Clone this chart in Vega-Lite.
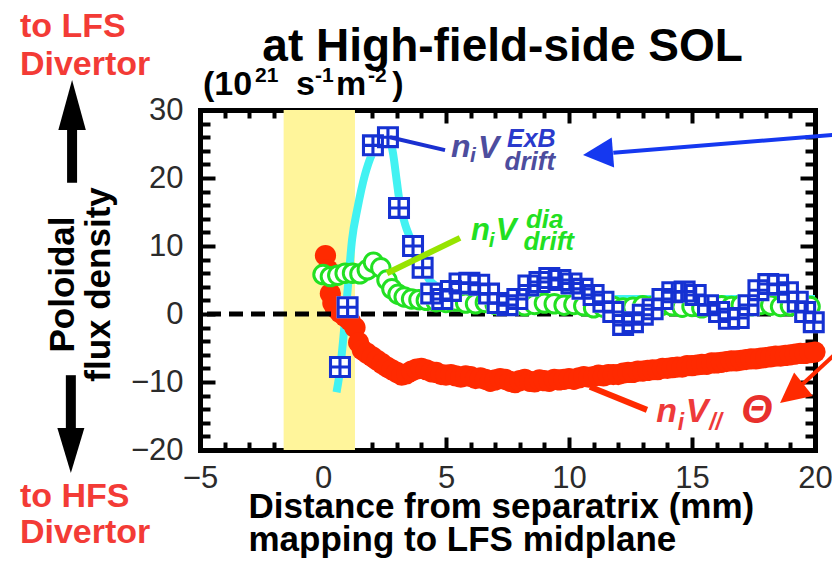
{
  "$schema": "https://vega.github.io/schema/vega-lite/v6.json",
  "width": 615,
  "height": 340,
  "autosize": "none",
  "padding": {"left": 200, "top": 110, "right": 17, "bottom": 114},
  "background": "white",
  "config": {
    "view": {"stroke": null},
    "axis": {
      "grid": false,
      "zindex": 1,
      "tickColor": "black",
      "tickWidth": 4,
      "domainColor": "black",
      "domainWidth": 5,
      "domainCap": "square",
      "labelFont": "Liberation Sans",
      "titleFont": "Liberation Sans"
    },
    "text": {"font": "Liberation Sans"}
  },
  "datasets": {
    "band": [{"x0": -1.6, "x1": 1.3, "y0": -20, "y1": 30}],
    "zero": [{"y": 0}],
    "exbFit": [
      {"x": 0.55, "y": -11.5}, {"x": 0.7, "y": -8.0}, {"x": 0.82, "y": -3.8}, {"x": 1.0, "y": 3.5},
      {"x": 1.18, "y": 10.9}, {"x": 1.4, "y": 15.5}, {"x": 1.7, "y": 20.4}, {"x": 2.0, "y": 23.6},
      {"x": 2.3, "y": 25.3}, {"x": 2.6, "y": 25.8}, {"x": 2.8, "y": 24.5}, {"x": 3.0, "y": 19.5},
      {"x": 3.1, "y": 16.8}, {"x": 3.4, "y": 12.5}, {"x": 3.8, "y": 9.4}, {"x": 4.1, "y": 6.5},
      {"x": 4.35, "y": 4.9}, {"x": 4.95, "y": 3.5}, {"x": 5.5, "y": 2.9}, {"x": 6.5, "y": 2.5},
      {"x": 8, "y": 2.3}, {"x": 10, "y": 2.2}, {"x": 12, "y": 2.2}, {"x": 14, "y": 2.2},
      {"x": 16, "y": 2.2}, {"x": 18, "y": 2.2}, {"x": 20, "y": 2.2}
    ],
    "exb": [
      {"x": 0.69, "y": -7.8}, {"x": 1.0, "y": 1.0}, {"x": 2.03, "y": 24.8}, {"x": 2.64, "y": 26.0},
      {"x": 3.09, "y": 15.6}, {"x": 3.66, "y": 10.0}, {"x": 4.05, "y": 6.8}, {"x": 4.4, "y": 3.0},
      {"x": 4.85, "y": 2.2}, {"x": 5.2, "y": 3.4}, {"x": 5.55, "y": 4.5}, {"x": 5.95, "y": 4.6},
      {"x": 6.35, "y": 4.3}, {"x": 6.75, "y": 3.0}, {"x": 7.1, "y": 1.6}, {"x": 7.5, "y": 1.3},
      {"x": 7.9, "y": 2.2}, {"x": 8.35, "y": 4.2}, {"x": 8.8, "y": 4.7}, {"x": 9.2, "y": 5.3},
      {"x": 9.65, "y": 5.0}, {"x": 10.1, "y": 4.5}, {"x": 10.55, "y": 3.7}, {"x": 11.0, "y": 2.8},
      {"x": 11.4, "y": 1.8}, {"x": 11.8, "y": 0.3}, {"x": 12.2, "y": -1.6}, {"x": 12.6, "y": -1.2},
      {"x": 13.0, "y": -0.1}, {"x": 13.4, "y": 0.7}, {"x": 13.8, "y": 2.2}, {"x": 14.2, "y": 3.2},
      {"x": 14.7, "y": 3.3}, {"x": 15.15, "y": 2.8}, {"x": 15.65, "y": 1.3}, {"x": 16.1, "y": 0.3},
      {"x": 16.5, "y": -0.7}, {"x": 16.9, "y": -0.6}, {"x": 17.3, "y": 1.3}, {"x": 17.7, "y": 3.5},
      {"x": 18.1, "y": 4.4}, {"x": 18.5, "y": 4.3}, {"x": 18.9, "y": 3.2}, {"x": 19.3, "y": 1.8},
      {"x": 19.6, "y": 0.3}, {"x": 19.95, "y": -1.2}
    ],
    "dia": [
      {"x": 0.0, "y": 5.8}, {"x": 0.3, "y": 5.5}, {"x": 0.6, "y": 5.7}, {"x": 0.9, "y": 6.0},
      {"x": 1.2, "y": 6.0}, {"x": 1.5, "y": 5.9}, {"x": 1.8, "y": 6.5}, {"x": 2.05, "y": 7.6},
      {"x": 2.35, "y": 6.8}, {"x": 2.6, "y": 5.0}, {"x": 2.8, "y": 3.7}, {"x": 3.05, "y": 2.9},
      {"x": 3.3, "y": 2.5}, {"x": 3.6, "y": 2.2}, {"x": 3.9, "y": 2.1}, {"x": 4.2, "y": 2.0},
      {"x": 4.6, "y": 1.8}, {"x": 5.0, "y": 1.7}, {"x": 5.4, "y": 1.9}, {"x": 5.8, "y": 1.6},
      {"x": 6.2, "y": 1.5}, {"x": 6.6, "y": 1.7}, {"x": 7.0, "y": 1.4}, {"x": 7.4, "y": 1.3},
      {"x": 7.8, "y": 1.5}, {"x": 8.2, "y": 1.2}, {"x": 8.6, "y": 1.4}, {"x": 9.0, "y": 1.6},
      {"x": 9.4, "y": 1.5}, {"x": 9.8, "y": 1.3}, {"x": 10.2, "y": 1.4}, {"x": 10.6, "y": 1.2},
      {"x": 11.0, "y": 0.9}, {"x": 11.4, "y": 1.0}, {"x": 11.8, "y": 1.1}, {"x": 12.2, "y": 0.9},
      {"x": 12.6, "y": 1.0}, {"x": 13.0, "y": 1.2}, {"x": 13.4, "y": 1.1}, {"x": 13.8, "y": 1.3},
      {"x": 14.2, "y": 1.2}, {"x": 14.6, "y": 1.0}, {"x": 15.0, "y": 1.1}, {"x": 15.4, "y": 0.9},
      {"x": 15.8, "y": 1.0}, {"x": 16.2, "y": 1.2}, {"x": 16.6, "y": 1.1}, {"x": 17.0, "y": 1.3},
      {"x": 17.4, "y": 1.2}, {"x": 17.8, "y": 1.4}, {"x": 18.2, "y": 1.3}, {"x": 18.6, "y": 1.1},
      {"x": 19.0, "y": 1.2}, {"x": 19.4, "y": 1.0}, {"x": 19.8, "y": 1.1}
    ],
    "par": [
      {"x": 0.1, "y": 8.6}, {"x": 0.2, "y": 6.5}, {"x": 0.3, "y": 3.0}, {"x": 0.4, "y": 1.6},
      {"x": 0.5, "y": 0.9}, {"x": 0.7, "y": 0.2}, {"x": 0.9, "y": -0.4}, {"x": 1.1, "y": -1.0},
      {"x": 1.3, "y": -2.0}, {"x": 1.45, "y": -4.2}, {"x": 1.6, "y": -5.3}, {"x": 1.8, "y": -5.8},
      {"x": 2.0, "y": -6.3}, {"x": 2.2, "y": -6.8}, {"x": 2.4, "y": -7.3}, {"x": 2.6, "y": -7.8},
      {"x": 2.8, "y": -8.2}, {"x": 3.0, "y": -8.6}, {"x": 3.2, "y": -9.0}, {"x": 3.4, "y": -8.8},
      {"x": 3.6, "y": -8.4}, {"x": 3.8, "y": -8.1}, {"x": 4.0, "y": -8.0}, {"x": 4.2, "y": -8.2},
      {"x": 4.4, "y": -8.5}, {"x": 4.6, "y": -8.6}, {"x": 4.8, "y": -8.9}, {"x": 5.0, "y": -9.0},
      {"x": 5.2, "y": -8.9}, {"x": 5.4, "y": -9.1}, {"x": 5.6, "y": -9.3}, {"x": 5.8, "y": -9.1},
      {"x": 6.0, "y": -9.2}, {"x": 6.2, "y": -9.5}, {"x": 6.4, "y": -9.4}, {"x": 6.6, "y": -9.6},
      {"x": 6.8, "y": -9.9}, {"x": 7.0, "y": -9.7}, {"x": 7.2, "y": -9.5}, {"x": 7.4, "y": -9.6},
      {"x": 7.6, "y": -9.9}, {"x": 7.8, "y": -10.1}, {"x": 8.0, "y": -9.8}, {"x": 8.2, "y": -9.6},
      {"x": 8.4, "y": -9.9}, {"x": 8.6, "y": -10.0}, {"x": 8.8, "y": -9.7}, {"x": 9.0, "y": -9.8},
      {"x": 9.2, "y": -9.9}, {"x": 9.4, "y": -9.6}, {"x": 9.6, "y": -9.7}, {"x": 9.8, "y": -9.6},
      {"x": 10.0, "y": -9.5}, {"x": 10.2, "y": -9.6}, {"x": 10.4, "y": -9.4}, {"x": 10.6, "y": -9.2},
      {"x": 10.8, "y": -9.3}, {"x": 11.0, "y": -9.2}, {"x": 11.2, "y": -9.0}, {"x": 11.4, "y": -9.1},
      {"x": 11.6, "y": -8.9}, {"x": 11.8, "y": -8.9}, {"x": 12.0, "y": -8.9}, {"x": 12.2, "y": -8.7},
      {"x": 12.4, "y": -8.6}, {"x": 12.6, "y": -8.6}, {"x": 12.8, "y": -8.4}, {"x": 13.0, "y": -8.4},
      {"x": 13.2, "y": -8.3}, {"x": 13.4, "y": -8.2}, {"x": 13.6, "y": -8.2}, {"x": 13.8, "y": -8.0},
      {"x": 14.0, "y": -8.0}, {"x": 14.2, "y": -7.9}, {"x": 14.4, "y": -7.8}, {"x": 14.6, "y": -7.8},
      {"x": 14.8, "y": -7.6}, {"x": 15.0, "y": -7.6}, {"x": 15.2, "y": -7.5}, {"x": 15.4, "y": -7.4},
      {"x": 15.6, "y": -7.4}, {"x": 15.8, "y": -7.2}, {"x": 16.0, "y": -7.2}, {"x": 16.2, "y": -7.1},
      {"x": 16.4, "y": -7.0}, {"x": 16.6, "y": -6.9}, {"x": 16.8, "y": -6.9}, {"x": 17.0, "y": -6.8},
      {"x": 17.2, "y": -6.7}, {"x": 17.4, "y": -6.6}, {"x": 17.6, "y": -6.6}, {"x": 17.8, "y": -6.5},
      {"x": 18.0, "y": -6.4}, {"x": 18.2, "y": -6.3}, {"x": 18.4, "y": -6.2}, {"x": 18.6, "y": -6.2},
      {"x": 18.8, "y": -6.1}, {"x": 19.0, "y": -6.0}, {"x": 19.2, "y": -5.9}, {"x": 19.4, "y": -5.8},
      {"x": 19.6, "y": -5.8}, {"x": 19.8, "y": -5.7}, {"x": 20.0, "y": -5.6}
    ],
    "leaders": [
      {"who": "exb", "x": 2.72, "y": 26.0, "x2": 4.96, "y2": 24.1},
      {"who": "dia", "x": 2.6, "y": 6.0, "x2": 5.57, "y2": 11.2},
      {"who": "par", "x": 10.85, "y": -10.7, "x2": 13.17, "y2": -14.1}
    ],
    "pointers": [
      {"who": "exb", "x": 21.0, "y": 26.4, "x2": 11.8, "y2": 23.7, "tx": 10.57, "ty": 23.4},
      {"who": "par", "x": 21.0, "y": -5.3, "x2": 19.5, "y2": -10.3, "tx": 18.58, "ty": -13.1}
    ],
    "updown": [
      {"dir": "up", "x": -10.2, "y": 19.3, "y2": 27.5, "ty": 34.4},
      {"dir": "down", "x": -10.25, "y": -9.0, "y2": -17.0, "ty": -23.4}
    ],
    "notes": [
      {"kind": "head", "x": 7.3, "y": 37.2, "t": "at High-field-side SOL"},
      {"kind": "side", "x": -12.32, "y": 40.7, "t": "to LFS"},
      {"kind": "side", "x": -12.32, "y": 35.1, "t": "Divertor"},
      {"kind": "side", "x": -12.32, "y": -28.4, "t": "to HFS"},
      {"kind": "side", "x": -12.32, "y": -33.7, "t": "Divertor"},
      {"kind": "unit", "x": -4.88, "y": 32.2, "t": "(10"},
      {"kind": "unit", "x": -1.1, "y": 32.2, "t": "s"},
      {"kind": "unit", "x": 0.53, "y": 32.2, "t": "m"},
      {"kind": "unit", "x": 2.81, "y": 32.2, "t": ")"},
      {"kind": "unitSup", "x": -2.76, "y": 34.1, "t": "21"},
      {"kind": "unitSup", "x": -0.33, "y": 34.1, "t": "-1"},
      {"kind": "unitSup", "x": 1.83, "y": 34.1, "t": "-2"},
      {"kind": "exbMain", "x": 5.2, "y": 23.1, "t": "n"},
      {"kind": "exbMain", "x": 6.3, "y": 22.9, "t": "V"},
      {"kind": "exbSub", "x": 5.98, "y": 22.35, "t": "i"},
      {"kind": "exbDrift", "x": 7.38, "y": 21.2, "t": "drift"},
      {"kind": "exbSup", "x": 7.48, "y": 24.6, "t": "ExB"},
      {"kind": "diaMain", "x": 6.02, "y": 10.9, "t": "n"},
      {"kind": "diaMain", "x": 7.02, "y": 10.9, "t": "V"},
      {"kind": "diaSub", "x": 6.74, "y": 9.85, "t": "i"},
      {"kind": "diaScript", "x": 8.25, "y": 12.6, "t": "dia"},
      {"kind": "diaScript", "x": 8.15, "y": 9.4, "t": "drift"},
      {"kind": "parMain", "x": 13.55, "y": -15.9, "t": "n"},
      {"kind": "parMain", "x": 14.75, "y": -15.9, "t": "V"},
      {"kind": "parSub", "x": 14.42, "y": -17.1, "t": "i"},
      {"kind": "parSub", "x": 15.7, "y": -17.1, "t": "//"},
      {"kind": "parTheta", "x": 17.0, "y": -16.0, "t": "Θ"}
    ]
  },
  "layer": [
    {
      "data": {"name": "exb"},
      "mark": {"type": "point", "opacity": 0},
      "encoding": {
        "x": {
          "field": "x", "type": "quantitative",
          "scale": {"domain": [-5, 20], "nice": false, "zero": false},
          "axis": {
            "orient": "bottom",
            "values": [-5, 0, 5, 10, 15, 20],
            "format": "d",
            "tickSize": -13,
            "domain": true,
            "labelFontSize": 31,
            "labelColor": "#2b2b2b",
            "labelPadding": 26,
            "labelFlush": false,
            "labelOverlap": false,
            "title": ["Distance from separatrix (mm)", "mapping to LFS midplane"],
            "titleFontSize": 35,
            "titleFontWeight": "bold",
            "titleColor": "black",
            "titleAlign": "left",
            "titleBaseline": "alphabetic",
            "titleX": 48,
            "titleY": 67,
            "titleLineHeight": 33
          }
        },
        "y": {
          "field": "y", "type": "quantitative",
          "scale": {"domain": [-20, 30], "nice": false, "zero": false},
          "axis": {
            "orient": "left",
            "values": [-20, -10, 0, 10, 20, 30],
            "format": "d",
            "tickSize": -15,
            "domain": true,
            "labelFontSize": 31,
            "labelColor": "#2b2b2b",
            "labelPadding": 32,
            "labelFlush": false,
            "labelOverlap": false,
            "title": ["Poloidal", "flux density"],
            "titleFontSize": 35,
            "titleFontWeight": "bold",
            "titleColor": "black",
            "titleAngle": -90,
            "titleAlign": "center",
            "titleBaseline": "alphabetic",
            "titleX": -127,
            "titleY": 174,
            "titleLineHeight": 36
          }
        }
      }
    },
    {
      "data": {"name": "exb"},
      "mark": {"type": "point", "opacity": 0},
      "encoding": {
        "x": {
          "field": "x", "type": "quantitative",
          "axis": {
            "orient": "bottom",
            "values": [-4, -3, -2, -1, 1, 2, 3, 4, 6, 7, 8, 9, 11, 12, 13, 14, 16, 17, 18, 19],
            "tickSize": -8, "labels": false, "domain": false, "title": null
          }
        },
        "y": {
          "field": "y", "type": "quantitative",
          "axis": {
            "orient": "left",
            "values": [-18, -16, -14, -12, -8, -6, -4, -2, 2, 4, 6, 8, 12, 14, 16, 18, 22, 24, 26, 28],
            "tickSize": -10, "labels": false, "domain": false, "title": null
          }
        }
      }
    },
    {
      "data": {"name": "exb"},
      "mark": {"type": "point", "opacity": 0},
      "encoding": {
        "x": {
          "field": "x", "type": "quantitative",
          "axis": {
            "orient": "top",
            "values": [-5, 0, 5, 10, 15, 20],
            "tickSize": -13, "labels": false, "domain": true, "title": null
          }
        },
        "y": {
          "field": "y", "type": "quantitative",
          "axis": {
            "orient": "right",
            "values": [-20, -10, 0, 10, 20, 30],
            "tickSize": -15, "labels": false, "domain": true, "title": null
          }
        }
      }
    },
    {
      "data": {"name": "exb"},
      "mark": {"type": "point", "opacity": 0},
      "encoding": {
        "x": {
          "field": "x", "type": "quantitative",
          "axis": {
            "orient": "top",
            "values": [-4, -3, -2, -1, 1, 2, 3, 4, 6, 7, 8, 9, 11, 12, 13, 14, 16, 17, 18, 19],
            "tickSize": -8, "labels": false, "domain": false, "title": null
          }
        },
        "y": {
          "field": "y", "type": "quantitative",
          "axis": {
            "orient": "right",
            "values": [-18, -16, -14, -12, -8, -6, -4, -2, 2, 4, 6, 8, 12, 14, 16, 18, 22, 24, 26, 28],
            "tickSize": -10, "labels": false, "domain": false, "title": null
          }
        }
      }
    },
    {
      "data": {"name": "band"},
      "mark": {"type": "rect", "color": "#fff59b"},
      "encoding": {
        "x": {"field": "x0", "type": "quantitative", "axis": null},
        "x2": {"field": "x1"},
        "y": {"field": "y0", "type": "quantitative", "axis": null},
        "y2": {"field": "y1"}
      }
    },
    {
      "data": {"name": "exbFit"},
      "mark": {"type": "line", "color": "#42f2f2", "strokeWidth": 8, "interpolate": "monotone"},
      "encoding": {
        "x": {"field": "x", "type": "quantitative", "axis": null},
        "y": {"field": "y", "type": "quantitative", "axis": null}
      }
    },
    {
      "data": {"name": "par"},
      "mark": {"type": "point", "shape": "circle", "filled": true, "color": "#ff2a00", "opacity": 1, "size": 450},
      "encoding": {
        "x": {"field": "x", "type": "quantitative", "axis": null},
        "y": {"field": "y", "type": "quantitative", "axis": null}
      }
    },
    {
      "data": {"name": "zero"},
      "mark": {"type": "rule", "color": "black", "strokeWidth": 5, "strokeDash": [14, 8]},
      "encoding": {
        "y": {"field": "y", "type": "quantitative", "axis": null}
      }
    },
    {
      "data": {"name": "dia"},
      "mark": {"type": "point", "shape": "circle", "filled": false, "fill": "white", "fillOpacity": 1, "stroke": "#22e022", "strokeWidth": 3, "opacity": 1, "size": 340},
      "encoding": {
        "x": {"field": "x", "type": "quantitative", "axis": null},
        "y": {"field": "y", "type": "quantitative", "axis": null}
      }
    },
    {
      "data": {"name": "exb"},
      "mark": {"type": "point", "shape": "square", "filled": true, "color": "white", "opacity": 1, "size": 484},
      "encoding": {
        "x": {"field": "x", "type": "quantitative", "axis": null},
        "y": {"field": "y", "type": "quantitative", "axis": null}
      }
    },
    {
      "data": {"name": "exb"},
      "mark": {
        "type": "point",
        "shape": "M-1,-1H1V1H-1Z M-0.72,-0.72V-0.14H-0.14V-0.72Z M0.14,-0.72V-0.14H0.72V-0.72Z M-0.72,0.14V0.72H-0.14V0.14Z M0.14,0.14V0.72H0.72V0.14Z",
        "filled": true, "color": "#1531d2", "opacity": 1, "size": 484
      },
      "encoding": {
        "x": {"field": "x", "type": "quantitative", "axis": null},
        "y": {"field": "y", "type": "quantitative", "axis": null}
      }
    },
    {
      "data": {"name": "leaders"},
      "transform": [{"filter": "datum.who === 'exb'"}],
      "mark": {"type": "rule", "color": "#1a30d0", "strokeWidth": 4},
      "encoding": {
        "x": {"field": "x", "type": "quantitative", "axis": null},
        "y": {"field": "y", "type": "quantitative", "axis": null},
        "x2": {"field": "x2"},
        "y2": {"field": "y2"}
      }
    },
    {
      "data": {"name": "leaders"},
      "transform": [{"filter": "datum.who === 'dia'"}],
      "mark": {"type": "rule", "color": "#96e400", "strokeWidth": 6},
      "encoding": {
        "x": {"field": "x", "type": "quantitative", "axis": null},
        "y": {"field": "y", "type": "quantitative", "axis": null},
        "x2": {"field": "x2"},
        "y2": {"field": "y2"}
      }
    },
    {
      "data": {"name": "leaders"},
      "transform": [{"filter": "datum.who === 'par'"}],
      "mark": {"type": "rule", "color": "#ff2a00", "strokeWidth": 6},
      "encoding": {
        "x": {"field": "x", "type": "quantitative", "axis": null},
        "y": {"field": "y", "type": "quantitative", "axis": null},
        "x2": {"field": "x2"},
        "y2": {"field": "y2"}
      }
    },
    {
      "data": {"name": "pointers"},
      "transform": [{"filter": "datum.who === 'exb'"}],
      "mark": {"type": "rule", "color": "#1538f0", "strokeWidth": 4},
      "encoding": {
        "x": {"field": "x", "type": "quantitative", "axis": null},
        "y": {"field": "y", "type": "quantitative", "axis": null},
        "x2": {"field": "x2"},
        "y2": {"field": "y2"}
      }
    },
    {
      "data": {"name": "pointers"},
      "transform": [{"filter": "datum.who === 'exb'"}],
      "mark": {"type": "point", "shape": "M0,0L2,-1L2,1Z", "filled": true, "color": "#1538f0", "opacity": 1, "size": 900, "angle": -4.6},
      "encoding": {
        "x": {"field": "tx", "type": "quantitative", "axis": null},
        "y": {"field": "ty", "type": "quantitative", "axis": null}
      }
    },
    {
      "data": {"name": "pointers"},
      "transform": [{"filter": "datum.who === 'par'"}],
      "mark": {"type": "rule", "color": "#ff2a00", "strokeWidth": 4},
      "encoding": {
        "x": {"field": "x", "type": "quantitative", "axis": null},
        "y": {"field": "y", "type": "quantitative", "axis": null},
        "x2": {"field": "x2"},
        "y2": {"field": "y2"}
      }
    },
    {
      "data": {"name": "pointers"},
      "transform": [{"filter": "datum.who === 'par'"}],
      "mark": {"type": "point", "shape": "M0,0L2,-1L2,1Z", "filled": true, "color": "#ff2a00", "opacity": 1, "size": 900, "angle": -38.7},
      "encoding": {
        "x": {"field": "tx", "type": "quantitative", "axis": null},
        "y": {"field": "ty", "type": "quantitative", "axis": null}
      }
    },
    {
      "data": {"name": "updown"},
      "mark": {"type": "rule", "color": "black", "strokeWidth": 10},
      "encoding": {
        "x": {"field": "x", "type": "quantitative", "axis": null},
        "y": {"field": "y", "type": "quantitative", "axis": null},
        "y2": {"field": "y2"}
      }
    },
    {
      "data": {"name": "updown"},
      "transform": [{"filter": "datum.dir === 'up'"}],
      "mark": {"type": "point", "shape": "M0,0L0.55,2L-0.55,2Z", "filled": true, "color": "black", "opacity": 1, "size": 2500},
      "encoding": {
        "x": {"field": "x", "type": "quantitative", "axis": null},
        "y": {"field": "ty", "type": "quantitative", "axis": null}
      }
    },
    {
      "data": {"name": "updown"},
      "transform": [{"filter": "datum.dir === 'down'"}],
      "mark": {"type": "point", "shape": "M0,0L0.6,-2L-0.6,-2Z", "filled": true, "color": "black", "opacity": 1, "size": 2025},
      "encoding": {
        "x": {"field": "x", "type": "quantitative", "axis": null},
        "y": {"field": "ty", "type": "quantitative", "axis": null}
      }
    },
    {
      "data": {"name": "notes"},
      "transform": [{"filter": "datum.kind === 'head'"}],
      "mark": {"type": "text", "align": "center", "baseline": "alphabetic", "fontSize": 46, "fontWeight": "bold", "color": "black"},
      "encoding": {
        "x": {"field": "x", "type": "quantitative", "axis": null},
        "y": {"field": "y", "type": "quantitative", "axis": null},
        "text": {"field": "t"}
      }
    },
    {
      "data": {"name": "notes"},
      "transform": [{"filter": "datum.kind === 'side'"}],
      "mark": {"type": "text", "align": "left", "baseline": "alphabetic", "fontSize": 34, "fontWeight": "bold", "color": "#f33b36"},
      "encoding": {
        "x": {"field": "x", "type": "quantitative", "axis": null},
        "y": {"field": "y", "type": "quantitative", "axis": null},
        "text": {"field": "t"}
      }
    },
    {
      "data": {"name": "notes"},
      "transform": [{"filter": "datum.kind === 'unit'"}],
      "mark": {"type": "text", "align": "left", "baseline": "alphabetic", "fontSize": 34, "fontWeight": "bold", "color": "black"},
      "encoding": {
        "x": {"field": "x", "type": "quantitative", "axis": null},
        "y": {"field": "y", "type": "quantitative", "axis": null},
        "text": {"field": "t"}
      }
    },
    {
      "data": {"name": "notes"},
      "transform": [{"filter": "datum.kind === 'unitSup'"}],
      "mark": {"type": "text", "align": "left", "baseline": "alphabetic", "fontSize": 21, "fontWeight": "bold", "color": "black"},
      "encoding": {
        "x": {"field": "x", "type": "quantitative", "axis": null},
        "y": {"field": "y", "type": "quantitative", "axis": null},
        "text": {"field": "t"}
      }
    },
    {
      "data": {"name": "notes"},
      "transform": [{"filter": "datum.kind === 'exbMain'"}],
      "mark": {"type": "text", "align": "left", "baseline": "alphabetic", "fontSize": 32, "fontWeight": "bold", "fontStyle": "italic", "color": "#4d4d9e"},
      "encoding": {
        "x": {"field": "x", "type": "quantitative", "axis": null},
        "y": {"field": "y", "type": "quantitative", "axis": null},
        "text": {"field": "t"}
      }
    },
    {
      "data": {"name": "notes"},
      "transform": [{"filter": "datum.kind === 'exbSub'"}],
      "mark": {"type": "text", "align": "left", "baseline": "alphabetic", "fontSize": 21, "fontWeight": "bold", "fontStyle": "italic", "color": "#4d4d9e"},
      "encoding": {
        "x": {"field": "x", "type": "quantitative", "axis": null},
        "y": {"field": "y", "type": "quantitative", "axis": null},
        "text": {"field": "t"}
      }
    },
    {
      "data": {"name": "notes"},
      "transform": [{"filter": "datum.kind === 'exbDrift'"}],
      "mark": {"type": "text", "align": "left", "baseline": "alphabetic", "fontSize": 26, "fontWeight": "bold", "fontStyle": "italic", "color": "#4d4d9e"},
      "encoding": {
        "x": {"field": "x", "type": "quantitative", "axis": null},
        "y": {"field": "y", "type": "quantitative", "axis": null},
        "text": {"field": "t"}
      }
    },
    {
      "data": {"name": "notes"},
      "transform": [{"filter": "datum.kind === 'exbSup'"}],
      "mark": {"type": "text", "align": "left", "baseline": "alphabetic", "fontSize": 25, "fontWeight": "bold", "fontStyle": "italic", "color": "#2a3acc"},
      "encoding": {
        "x": {"field": "x", "type": "quantitative", "axis": null},
        "y": {"field": "y", "type": "quantitative", "axis": null},
        "text": {"field": "t"}
      }
    },
    {
      "data": {"name": "notes"},
      "transform": [{"filter": "datum.kind === 'diaMain'"}],
      "mark": {"type": "text", "align": "left", "baseline": "alphabetic", "fontSize": 31, "fontWeight": "bold", "fontStyle": "italic", "color": "#22e022"},
      "encoding": {
        "x": {"field": "x", "type": "quantitative", "axis": null},
        "y": {"field": "y", "type": "quantitative", "axis": null},
        "text": {"field": "t"}
      }
    },
    {
      "data": {"name": "notes"},
      "transform": [{"filter": "datum.kind === 'diaSub'"}],
      "mark": {"type": "text", "align": "left", "baseline": "alphabetic", "fontSize": 21, "fontWeight": "bold", "fontStyle": "italic", "color": "#22e022"},
      "encoding": {
        "x": {"field": "x", "type": "quantitative", "axis": null},
        "y": {"field": "y", "type": "quantitative", "axis": null},
        "text": {"field": "t"}
      }
    },
    {
      "data": {"name": "notes"},
      "transform": [{"filter": "datum.kind === 'diaScript'"}],
      "mark": {"type": "text", "align": "left", "baseline": "alphabetic", "fontSize": 26, "fontWeight": "bold", "fontStyle": "italic", "color": "#22e022"},
      "encoding": {
        "x": {"field": "x", "type": "quantitative", "axis": null},
        "y": {"field": "y", "type": "quantitative", "axis": null},
        "text": {"field": "t"}
      }
    },
    {
      "data": {"name": "notes"},
      "transform": [{"filter": "datum.kind === 'parMain'"}],
      "mark": {"type": "text", "align": "left", "baseline": "alphabetic", "fontSize": 34, "fontWeight": "bold", "fontStyle": "italic", "color": "#ee3a3a"},
      "encoding": {
        "x": {"field": "x", "type": "quantitative", "axis": null},
        "y": {"field": "y", "type": "quantitative", "axis": null},
        "text": {"field": "t"}
      }
    },
    {
      "data": {"name": "notes"},
      "transform": [{"filter": "datum.kind === 'parSub'"}],
      "mark": {"type": "text", "align": "left", "baseline": "alphabetic", "fontSize": 23, "fontWeight": "bold", "fontStyle": "italic", "color": "#ee3a3a"},
      "encoding": {
        "x": {"field": "x", "type": "quantitative", "axis": null},
        "y": {"field": "y", "type": "quantitative", "axis": null},
        "text": {"field": "t"}
      }
    },
    {
      "data": {"name": "notes"},
      "transform": [{"filter": "datum.kind === 'parTheta'"}],
      "mark": {"type": "text", "align": "left", "baseline": "alphabetic", "fontSize": 40, "fontWeight": "bold", "fontStyle": "italic", "color": "#e8302c"},
      "encoding": {
        "x": {"field": "x", "type": "quantitative", "axis": null},
        "y": {"field": "y", "type": "quantitative", "axis": null},
        "text": {"field": "t"}
      }
    }
  ],
  "resolve": {"axis": {"x": "independent", "y": "independent"}}
}
